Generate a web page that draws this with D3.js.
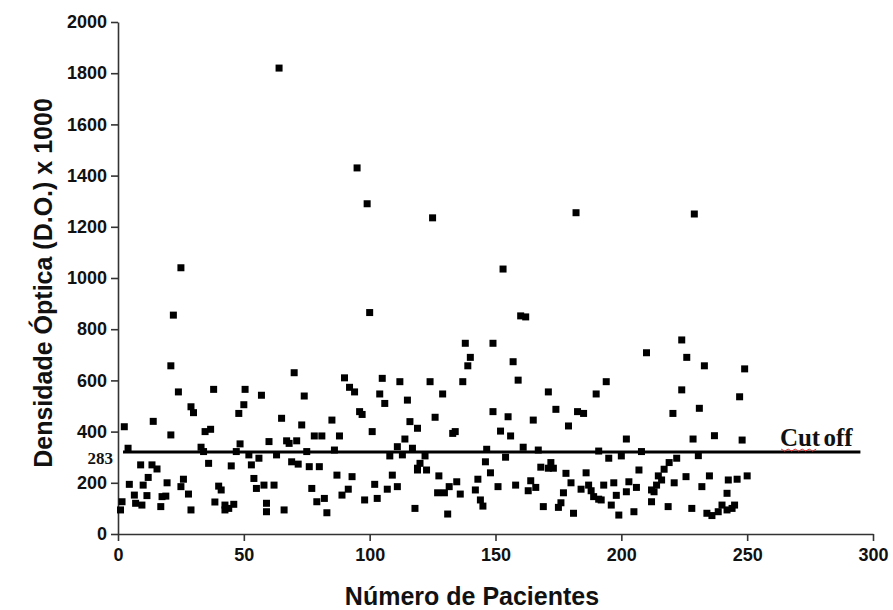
<!DOCTYPE html>
<html>
<head>
<meta charset="utf-8">
<script src="https://cdn.jsdelivr.net/npm/d3@7"></script>
<style>
  body { margin: 0; background: #fff; }
  svg text { font-family: "Liberation Sans", Arial, sans-serif; }
</style>
</head>
<body>
<div id="chart"></div>
<script>
// patient number, optical density (x1000)
const patients = [
  64, 95, 99, 125, 25, 22, 100, 21, 70, 90, 105, 112, 124,
  182, 229, 153, 160, 162, 138, 149, 140, 139, 157, 210, 224, 226, 233, 249, 159, 137, 194,
  24, 29, 30, 2.5, 14, 21, 4, 9, 13.5, 15.5, 12, 4.5, 10, 19.5, 26, 25, 28, 6.5, 11.5, 17.5, 19, 1.6, 7, 9.5, 1, 17, 29,
  38, 50.5, 57, 50, 48, 34.6, 36.8, 33, 34, 47, 48.5, 52, 56, 60, 36, 45, 53, 54, 40, 41, 55, 58, 38.5, 42.5, 44, 46, 42.5, 59, 59,
  74, 65, 73, 85, 67, 68, 71, 78, 81, 88, 63, 75, 86, 69, 71.6, 76, 80, 87, 62, 77, 89, 79, 82, 66, 83,
  92, 94, 104, 106, 115, 96, 97, 116, 119, 101, 114, 111, 117, 108, 113, 119, 93, 109, 102, 91.5, 107, 111, 98, 103, 118,
  129, 149, 126, 133, 134, 146.5, 122, 120, 119, 122.6, 146, 148, 127.5, 143, 134.6, 131.6, 127, 129.7, 136, 142, 144, 145, 131,
  171, 174, 155, 165, 179, 152, 156, 161, 167, 154, 172, 168, 171, 173, 178, 164, 151, 158, 163, 166, 177, 176, 175, 169,
  190, 182.6, 185, 202, 191, 195, 200, 208, 186, 180, 207, 187, 188, 189, 191, 192, 184, 193, 197, 203, 202, 206, 198, 196, 199, 205, 181,
  224, 247, 231, 220.5, 228.5, 237, 248, 222, 219, 217, 214.7, 216, 214, 212, 213, 230.6, 221, 225.7, 235, 242.5, 246, 250, 232, 242, 212, 218.6, 228, 234, 236, 238.5, 240, 242, 244, 245
];
const density = [
  1820, 1430, 1290, 1235, 1040, 855, 865, 657, 630, 610, 608, 595, 595,
  1255, 1250, 1035, 852, 848, 745, 745, 690, 657, 673, 708, 758, 690, 657, 645, 601, 595, 595,
  555, 497, 474, 419, 440, 387, 335, 270, 270, 254, 221, 194, 191, 200, 214, 185, 156, 152, 150, 146, 148, 126, 120, 113, 94, 107, 94,
  565, 565, 542, 505, 471, 400, 409, 339, 322, 322, 352, 309, 296, 361, 276, 266, 270, 217, 187, 172, 178, 191, 125, 113, 100, 116, 94, 120, 87,
  539, 452, 426, 445, 364, 354, 364, 383, 383, 383, 309, 322, 328, 282, 273, 263, 263, 230, 191, 178, 152, 126, 139, 94, 83,
  573, 555, 547, 510, 523, 478, 467, 439, 413, 400, 371, 341, 335, 305, 309, 257, 224, 230, 194, 175, 175, 185, 133, 139, 100,
  547, 478, 456, 393, 400, 331, 305, 276, 250, 250, 282, 239, 227, 214, 204, 185, 161, 161, 156, 172, 133, 109, 78,
  555, 487, 458, 445, 422, 402, 383, 339, 328, 300, 279, 261, 257, 257, 237, 208, 185, 191, 169, 182, 161, 122, 104, 107,
  547, 478, 471, 371, 324, 296, 305, 322, 239, 200, 250, 191, 169, 146, 136, 133, 175, 191, 200, 204, 165, 182, 151, 113, 74, 87, 81,
  563, 536, 491, 471, 371, 384, 367, 296, 279, 253, 227, 211, 191, 172, 165, 306, 200, 224, 227, 211, 214, 227, 185, 159, 126, 107, 100, 81, 72, 87, 113, 94, 100, 113
];
const xTicks = [0, 50, 100, 150, 200, 250, 300];
const yTicks = [0, 200, 400, 600, 800, 1000, 1200, 1400, 1600, 1800, 2000];
const cutOff = 320;
const cutOffLabel = '283';

const width = 893, height = 610;
const margin = {top: 22, right: 20, bottom: 76, left: 118};

const svg = d3.select('#chart').append('svg').attr('width', width).attr('height', height);

const x = d3.scaleLinear().domain([0, 300]).range([margin.left, 873]);
const y = d3.scaleLinear().domain([0, 2000]).range([height - margin.bottom, margin.top]);

const xAxis = svg.append('g')
  .attr('transform', `translate(0, ${y(0)})`)
  .call(d3.axisBottom(x).tickValues(xTicks).tickFormat(d3.format('d'))
    .tickSize(7).tickSizeOuter(0).tickPadding(7));

const yAxis = svg.append('g')
  .attr('transform', `translate(${x(0)}, 0)`)
  .call(d3.axisLeft(y).tickValues(yTicks).tickFormat(d3.format('d'))
    .tickSize(7).tickSizeOuter(0).tickPadding(4));

[xAxis, yAxis].forEach(g => {
  g.select('.domain').attr('stroke', '#333').attr('stroke-width', 1.6);
  g.selectAll('.tick line').attr('stroke', '#333').attr('stroke-width', 1.6);
  g.selectAll('.tick text')
    .attr('fill', '#111')
    .style('font-size', '18px')
    .style('font-weight', 'bold');
});

// cut off line
svg.append('line')
  .attr('x1', x(2)).attr('x2', x(295))
  .attr('y1', y(cutOff)).attr('y2', y(cutOff))
  .attr('stroke', '#000').attr('stroke-width', 3);

svg.append('text')
  .attr('x', x(0) - 5).attr('y', y(cutOff) + 12)
  .attr('text-anchor', 'end')
  .style('font-family', '"Liberation Serif", "Times New Roman", serif')
  .style('font-weight', 'bold')
  .style('font-size', '17px')
  .attr('fill', '#111')
  .text(cutOffLabel);

svg.append('text')
  .attr('x', x(263)).attr('y', y(cutOff) - 6)
  .style('font-family', '"Liberation Serif", "Times New Roman", serif')
  .style('font-weight', 'bold')
  .style('font-size', '25px')
  .style('word-spacing', '-3px')
  .attr('fill', '#111')
  .text('Cut off');

// spell-check squiggle under "Cut"
const sq = d3.path();
sq.moveTo(x(263.5), y(cutOff) - 3);
for (let i = 1; i <= 10; i++) {
  sq.lineTo(x(263.5) + i * 3.5, y(cutOff) - 3 + (i % 2 ? 2 : 0));
}
svg.append('path').attr('d', sq.toString()).attr('fill', 'none').attr('stroke', '#e03030').attr('stroke-width', 1);

// points
const points = patients.map((p, i) => ({p, v: density[i]}));
svg.append('g')
  .selectAll('rect')
  .data(points)
  .join('rect')
  .attr('x', d => x(d.p) - 3.5)
  .attr('y', d => y(d.v) - 3.5)
  .attr('width', 7)
  .attr('height', 7)
  .attr('fill', '#000');

// axis titles
svg.append('text')
  .attr('x', 472).attr('y', 605)
  .attr('text-anchor', 'middle')
  .style('font-size', '25px')
  .style('font-weight', 'bold')
  .attr('fill', '#111')
  .text('Número de Pacientes');

svg.append('text')
  .attr('transform', `translate(52, ${y(1000) + 5}) rotate(-90)`)
  .attr('text-anchor', 'middle')
  .style('font-size', '25px')
  .style('font-weight', 'bold')
  .attr('fill', '#111')
  .text('Densidade Óptica (D.O.) x 1000');
</script>
</body>
</html>
